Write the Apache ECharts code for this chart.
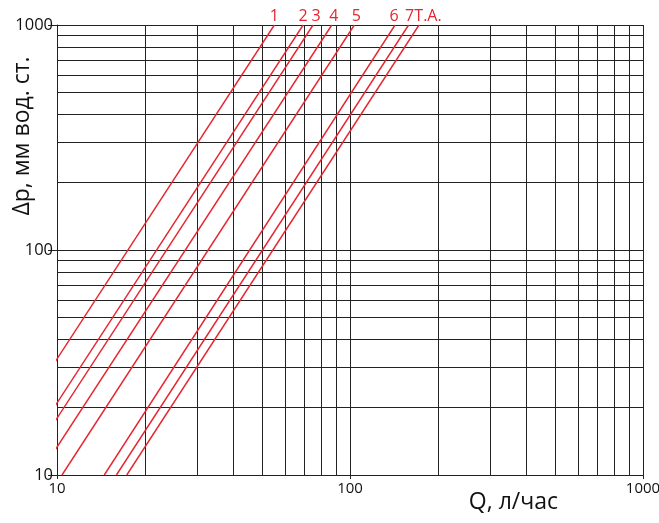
<!DOCTYPE html>
<html><head><meta charset="utf-8">
<script src="https://cdn.jsdelivr.net/npm/echarts@6/dist/echarts.min.js"></script>
<style>html,body{margin:0;padding:0;background:#fff}#c{width:659px;height:523px}</style>
</head><body><div id="c"></div>
<script>
// Curve names
const curveNames = ['1','2','3','4','5','6','7','T.A.'];
// Flow Q (l/h) at Δp = 10 mm w.c. and at Δp = 1000 mm w.c.
const flowAt10   = [5.52, 6.92, 7.48, 8.67, 10.4, 14.5, 15.95, 17.3];
const flowAt1000 = [55.2, 69.2, 74.8, 86.7, 103.5, 142.5, 158.5, 172];
const dpLow = 10, dpHigh = 1000;
// Minor grid values
const minorGrid = [20,30,40,50,60,70,80,90,200,300,400,500,600,700,800,900];
// label horizontal offsets (style)
const labelDx = [0, 0, 3, 2, 2, -1, 1, 9];

const FONT = 'Open Sans';
const series = curveNames.map((n, i) => ({
  type: 'line', name: n, silent: true, animation: false,
  symbol: 'circle', symbolSize: 0.1, showSymbol: true,
  lineStyle: { color: '#e52530', width: 1.4 },
  itemStyle: { color: '#e52530' },
  data: [
    [flowAt10[i], dpLow],
    { value: [flowAt1000[i], dpHigh],
      label: { show: true, position: 'top', distance: 1, offset: [labelDx[i], 0],
        formatter: n, color: '#e52530', fontFamily: FONT, fontSize: 16 } }
  ],
  z: 5
}));
series.push({
  type: 'line', data: [], silent: true, animation: false, z: 1,
  markLine: {
    silent: true, symbol: 'none', animation: false,
    label: { show: false },
    lineStyle: { color: '#222', width: 1, type: 'solid' },
    emphasis: { disabled: true },
    data: minorGrid.map(v => ({ xAxis: v })).concat(minorGrid.map(v => ({ yAxis: v })))
  }
});

const chart = echarts.init(document.getElementById('c'), null, { renderer: 'canvas' });
chart.setOption({
  animation: false,
  backgroundColor: '#fff',
  grid: { left: 57, right: 16, top: 25, bottom: 48, containLabel: false, outerBoundsMode: 'none' },
  graphic: [{
    type: 'text', x: 22, y: 136, rotation: Math.PI / 2, silent: true,
    style: { text: 'Δp, мм вод. ст.', fontFamily: FONT, fontSize: 23, fill: '#111',
      align: 'center', verticalAlign: 'middle' }
  }],
  xAxis: {
    type: 'log', min: 10, max: 1000, logBase: 10,
    name: 'Q, л/час', nameLocation: 'end',
    nameGap: 0,
    nameTextStyle: { fontFamily: FONT, fontSize: 23, color: '#111',
      align: 'right', verticalAlign: 'top', padding: [16, 85, 0, 0] },
    axisLine: { show: true, lineStyle: { color: '#222', width: 1 } },
    axisTick: { show: true, length: 4, lineStyle: { color: '#222' } },
    axisLabel: { fontFamily: FONT, fontSize: 15, color: '#111', margin: 6, formatter: v => String(v) },
    splitLine: { show: true, lineStyle: { color: '#222', width: 1 } },
    minorTick: { show: false }, minorSplitLine: { show: false }
  },
  yAxis: {
    type: 'log', min: 10, max: 1000, logBase: 10,
    axisLine: { show: true, lineStyle: { color: '#222', width: 1 } },
    axisTick: { show: true, length: 9, lineStyle: { color: '#222' } },
    axisLabel: { fontFamily: FONT, fontSize: 16.5, color: '#111', margin: 4, formatter: v => String(v) },
    splitLine: { show: true, lineStyle: { color: '#222', width: 1 } },
    minorTick: { show: false }, minorSplitLine: { show: false }
  },
  series: series
});
</script></body></html>
